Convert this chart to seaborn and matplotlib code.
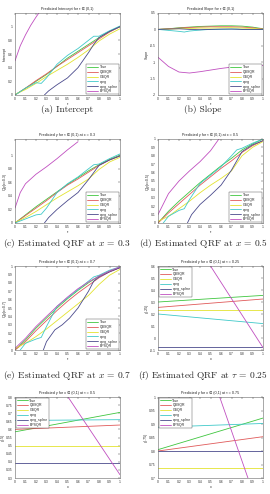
import matplotlib
matplotlib.use("Agg")
import pandas as pd
import matplotlib.pyplot as plt
import seaborn as sns

# Series shown in every panel, legend order
SERIES = ["True", "QBSQR", "GSQR", "qreg", "qreg_spline", "BPSQR"]
COLORS = ["#3fc63f", "#e05a5a", "#e3e330", "#3fc9c9", "#4a4a8c", "#c04fc0"]

TAU = [0, .1, .2, .3, .4, .5, .6, .7, .8, .9, 1]
QREG_TAU = [0, .1, .2, .25, .3, .4, .5, .6, .7, .75, .8, .9, 1]
QREG_TAU2 = [.05, .1, .2, .25, .3, .4, .5, .6, .7, .75, .8, .9, 1]
XLINE = [0, 1]

# (a) intercept
a_true = [0, .1, .2, .3, .42, .54, .64, .74, .84, .93, 1.0]
a_qbsqr = [0, .1, .21, .31, .42, .52, .62, .72, .82, .92, 1.0]
a_gsqr = [.01, .08, .17, .27, .36, .45, .55, .66, .79, .89, .97]
a_qreg = [0, .1, .18, .17, .25, .45, .58, .68, .8, .86, .86, .94, 1.01]
a_spline_x = [.28, .32, .4, .5, .6, .7, .75, .8, .9, 1]
a_spline = [0, .06, .15, .25, .4, .62, .74, .84, .93, 1.0]
a_bpsqr_x = [0, .05, .1, .15, .2, .25, .3]
a_bpsqr = [.5, .72, .88, 1.02, 1.14, 1.25, 1.35]

# (b) slope
b_true = [0, .02, .05, .07, .09, .1, .11, .11, .1, .07, .02]
b_qbsqr = [0, .02, .04, .06, .07, .08, .08, .08, .07, .05, .01]
b_gsqr = [0, .01, .02, .03, .04, .04, .05, .05, .04, .03, 0]
b_qreg = [0, -.03, -.06, -.08, -.05, -.02, 0, 0, .01, .01, 0, 0, 0]
b_spline = [0, .01, .02, 0, -.01, 0, .01, .01, 0, 0, 0]
b_bpsqr = [-.85, -1.13, -1.3, -1.33, -1.29, -1.24, -1.19, -1.15, -1.13, -1.11, -1.1]

# (c) x = 0.3
c_true = [0, .12, .24, .35, .46, .57, .67, .77, .86, .94, 1.0]
c_qbsqr = [0, .11, .22, .33, .45, .56, .65, .75, .85, .93, .99]
c_gsqr = [.01, .08, .17, .27, .37, .46, .55, .65, .79, .9, .97]
c_qreg = [0, .06, .12, .13, .22, .45, .58, .68, .8, .86, .87, .95, 1.02]
c_spline_x = [.28, .32, .4, .5, .6, .7, .8, .9, 1]
c_spline = [0, .08, .2, .33, .45, .64, .85, .93, .99]
c_bpsqr_x = [0, .05, .1, .2, .3, .4, .5, .6]
c_bpsqr = [.22, .45, .58, .72, .83, .95, 1.08, 1.2]

# (d) x = 0.5
d_true = [0, .14, .26, .37, .48, .58, .68, .77, .87, .94, 1.0]
d_qbsqr = [0, .12, .23, .34, .45, .55, .65, .74, .84, .92, .98]
d_gsqr = [.02, .08, .17, .26, .36, .45, .53, .62, .8, .9, .97]
d_qreg = [0, .08, .15, .17, .28, .47, .57, .67, .8, .87, .89, .95, 1.0]
d_spline_x = [.28, .32, .4, .5, .6, .7, .8, .9, 1]
d_spline = [0, .1, .22, .33, .45, .63, .85, .93, .98]
d_bpsqr_x = [0, .1, .2, .3, .4, .5, .58]
d_bpsqr = [.1, .35, .5, .62, .73, .86, 1.0]

# (e) x = 0.7
e_true = [0, .12, .26, .38, .5, .61, .71, .8, .88, .94, .98]
e_qbsqr = [0, .1, .23, .35, .47, .58, .68, .77, .86, .93, .98]
e_gsqr = [.02, .08, .16, .25, .35, .45, .55, .65, .78, .89, .96]
e_qreg = [0, .08, .13, .15, .28, .52, .62, .72, .82, .87, .89, .95, .99]
e_spline_x = [.27, .3, .38, .45, .52, .6, .65, .7, .75, .8, .9, 1]
e_spline = [0, .1, .24, .3, .38, .5, .6, .7, .82, .87, .93, .98]
e_bpsqr = [.02, .14, .28, .4, .52, .63, .73, .81, .88, .94, .99]

# (f) tau = 0.25, (g) tau = 0.5, (h) tau = 0.75 : values at x = 0 and x = 1
f_vals = [[.30, .355], [.255, .325], [.235, .235], [.2, .12], [-.075, -.075], [1.28, -.08]]
g_vals = [[.585, .705], [.60, .627], [.5, .5], [.655, .66], [.39, .39], [1.29, .32]]
h_vals = [[.805, .922], [.80, .853], [.737, .737], [.888, .902], [.80, .80], [1.655, .54]]


def to_frame(lines):
    rows = []
    for name, (xs, ys) in zip(SERIES, lines):
        for x, y in zip(xs, ys):
            rows.append((name, x, y))
    return pd.DataFrame(rows, columns=["series", "x", "y"])


panels = [
    dict(lines=[(TAU, a_true), (TAU, a_qbsqr), (TAU, a_gsqr), (QREG_TAU, a_qreg),
                (a_spline_x, a_spline), (a_bpsqr_x, a_bpsqr)],
         title="Predicted Intercept for τ ∈ (0,1)", xlabel="τ", ylabel="Intercept",
         ylim=(0, 1.2), yticks=[0, .2, .4, .6, .8, 1], loc="lower right",
         caption="(a) Intercept"),
    dict(lines=[(TAU, b_true), (TAU, b_qbsqr), (TAU, b_gsqr), (QREG_TAU, b_qreg),
                (TAU, b_spline), (TAU, b_bpsqr)],
         title="Predicted Slope for τ ∈ (0,1)", xlabel="τ", ylabel="Slope",
         ylim=(-2, .5), yticks=[-2, -1.5, -1, -.5, 0, .5], loc="lower right",
         caption="(b) Slope"),
    dict(lines=[(TAU, c_true), (TAU, c_qbsqr), (TAU, c_gsqr), (QREG_TAU, c_qreg),
                (c_spline_x, c_spline), (c_bpsqr_x, c_bpsqr)],
         title="Predicted y for τ ∈ (0,1) at x = 0.3", xlabel="τ", ylabel="Q(y|x=0.3)",
         ylim=(0, 1.24), yticks=[0, .2, .4, .6, .8, 1], loc="lower right",
         caption="(c) Estimated QRF at $x$ = 0.3"),
    dict(lines=[(TAU, d_true), (TAU, d_qbsqr), (TAU, d_gsqr), (QREG_TAU2, d_qreg),
                (d_spline_x, d_spline), (d_bpsqr_x, d_bpsqr)],
         title="Predicted y for τ ∈ (0,1) at x = 0.5", xlabel="τ", ylabel="Q(y|x=0.5)",
         ylim=(0, 1), yticks=[i / 10 for i in range(11)], loc="lower right",
         caption="(d) Estimated QRF at $x$ = 0.5"),
    dict(lines=[(TAU, e_true), (TAU, e_qbsqr), (TAU, e_gsqr), (QREG_TAU2, e_qreg),
                (e_spline_x, e_spline), (TAU, e_bpsqr)],
         title="Predicted y for τ ∈ (0,1) at x = 0.7", xlabel="τ", ylabel="Q(y|x=0.7)",
         ylim=(0, 1), yticks=[i / 10 for i in range(11)], loc="lower right",
         caption="(e) Estimated QRF at $x$ = 0.7"),
    dict(lines=[(XLINE, v) for v in f_vals],
         title="Predicted y for x ∈ (0,1) at τ = 0.25", xlabel="x", ylabel="y(.25)",
         ylim=(-.1, .6), yticks=[-.1, 0, .1, .2, .3, .4, .5, .6], loc="upper left",
         caption="(f) Estimated QRF at $\\tau$ = 0.25"),
    dict(lines=[(XLINE, v) for v in g_vals],
         title="Predicted y for x ∈ (0,1) at τ = 0.5", xlabel="x", ylabel="y(.5)",
         ylim=(.3, .8), yticks=[.3, .35, .4, .45, .5, .55, .6, .65, .7, .75, .8],
         loc="upper left", caption=None),
    dict(lines=[(XLINE, v) for v in h_vals],
         title="Predicted y for x ∈ (0,1) at τ = 0.75", xlabel="x", ylabel="y(.75)",
         ylim=(.7, 1.0), yticks=[.7, .75, .8, .85, .9, .95, 1.0],
         loc="upper left", caption=None),
]

sns.set_theme(style="white")
plt.rcParams["font.family"] = ["Liberation Sans", "DejaVu Sans"]
plt.rcParams["mathtext.fontset"] = "cm"

W, H = 270, 494
fig = plt.figure(figsize=(W / 100, H / 100), dpi=100)

cols = [(15, 120), (158, 263)]
rows = [(13, 95), (139, 223), (266, 350), (397, 478)]
cap_y = [110, 243, 375]
cap_x = [67, 203]

for k, p in enumerate(panels):
    r, c = divmod(k, 2)
    l, rr = cols[c]
    t, b = rows[r]
    ax = fig.add_axes([l / W, 1 - b / H, (rr - l) / W, (b - t) / H])
    df = to_frame(p["lines"])
    sns.lineplot(data=df, x="x", y="y", hue="series", hue_order=SERIES,
                 palette=COLORS, sort=False, estimator=None, linewidth=0.6, ax=ax)
    ax.set_xlim(0, 1)
    ax.set_ylim(*p["ylim"])
    ax.set_xticks(TAU)
    ax.set_xticklabels(["0", "0.1", "0.2", "0.3", "0.4", "0.5", "0.6", "0.7", "0.8", "0.9", "1"])
    ax.set_yticks(p["yticks"])
    ax.set_yticklabels([f"{v:g}" for v in p["yticks"]])
    ax.tick_params(direction="in", length=1.5, width=0.3, top=True, right=True,
                   pad=1.5, labelsize=2.4, colors="#333333")
    for s in ax.spines.values():
        s.set_linewidth(0.4)
        s.set_color("#666666")
    ax.set_title(p["title"], fontsize=2.7, pad=2)
    ax.set_xlabel(p["xlabel"], fontsize=2.6, labelpad=1)
    ax.set_ylabel(p["ylabel"], fontsize=2.6, labelpad=1)
    sns.move_legend(ax, p["loc"], title=None, fontsize=2.5, frameon=True,
                    fancybox=False, edgecolor="#444444", framealpha=1,
                    handlelength=3.2, labelspacing=0.25, borderpad=0.3,
                    borderaxespad=0.15, handletextpad=0.5)
    leg = ax.get_legend()
    leg.get_frame().set_linewidth(0.3)
    for h in leg.get_lines():
        h.set_linewidth(0.6)
    if p["caption"]:
        fig.text(cap_x[c] / W, 1 - cap_y[r] / H, p["caption"], ha="center", va="center",
                 fontsize=6.8, family="cmr10")

fig.savefig("out.png", dpi=100)
